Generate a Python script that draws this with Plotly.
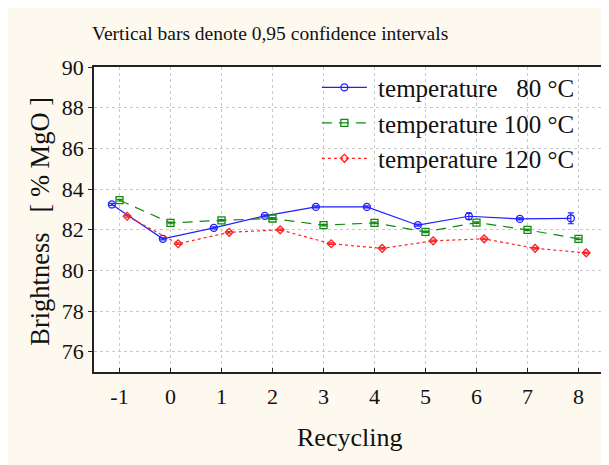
import plotly.graph_objects as go

cycles = [-1, 0, 1, 2, 3, 4, 5, 6, 7, 8]
cycle_labels = ["-1", "0", "1", "2", "3", "4", "5", "6", "7", "8"]

t80 = [83.24, 81.55, 82.09, 82.68, 83.12, 83.12, 82.22, 82.66, 82.53, 82.56]
t80_ci = [0.05, 0.05, 0.05, 0.05, 0.05, 0.05, 0.05, 0.15, 0.05, 0.27]

t100 = [83.45, 82.33, 82.46, 82.55, 82.22, 82.33, 81.89, 82.35, 81.99, 81.55]
t100_ci = [0.04, 0.04, 0.04, 0.04, 0.04, 0.04, 0.04, 0.04, 0.04, 0.04]

t120 = [82.66, 81.31, 81.87, 81.99, 81.31, 81.08, 81.45, 81.55, 81.08, 80.86]
t120_ci = [0.04, 0.04, 0.04, 0.04, 0.04, 0.04, 0.04, 0.04, 0.04, 0.04]

y_ticks = [76, 78, 80, 82, 84, 86, 88, 90]

serif = "Liberation Serif"
cream = "#fdf9ef"

series = [
    (" temperature   80 °C", t80, t80_ci, -0.15, "#1f1fff", "solid", "circle-open", 7),
    (" temperature 100 °C", t100, t100_ci, 0.0, "#108a10", "10px,7px", "square-open", 7),
    (" temperature 120 °C", t120, t120_ci, 0.15, "#ff2020", "dot", "diamond-open", 6),
]

fig = go.Figure()
for name, vals, ci, off, col, dash, sym, size in series:
    fig.add_trace(go.Scatter(
        x=[c + off for c in cycles], y=vals, name=name, mode="lines+markers",
        line=dict(color=col, width=1.2, dash=dash),
        marker=dict(symbol=sym, size=size, color=col, line=dict(width=1.3, color=col)),
        error_y=dict(type="data", array=ci, color=col, thickness=1.2, width=3),
    ))

fig.add_annotation(text="Vertical bars denote 0,95 confidence intervals", xref="paper", yref="paper",
                   x=0.3455, y=1.111, xanchor="center", yanchor="middle",
                   showarrow=False, font=dict(size=19.5, color="#111"))
fig.add_annotation(text="Brightness   [ % MgO ]", xref="paper", yref="paper", textangle=-90,
                   x=-0.106, y=0.4956, xanchor="center", yanchor="middle",
                   showarrow=False, font=dict(size=26.5, color="#111"))
fig.add_annotation(text="Recycling", xref="paper", yref="paper",
                   x=0.5, y=-0.215, xanchor="center", yanchor="middle",
                   showarrow=False, font=dict(size=26, color="#111"))

fig.update_layout(
    width=609, height=465,
    margin=dict(l=86, r=11, t=59, b=101),
    paper_bgcolor=cream, plot_bgcolor="white",
    font=dict(family=serif, color="#111"),
    showlegend=True,
    legend=dict(x=0.437, y=1.008, xanchor="left", yanchor="top", bgcolor="rgba(0,0,0,0)",
                font=dict(size=25), itemwidth=45, tracegroupgap=0),
    xaxis=dict(range=[-1.5, 8.5], tickvals=cycles, ticktext=cycle_labels,
               ticks="inside", ticklen=4, tickcolor="#222", ticklabelstandoff=4,
               showline=True, mirror=True, linecolor="#222", linewidth=1.5,
               showgrid=True, gridcolor="#c8c8c8", griddash="dot", gridwidth=1,
               tickfont=dict(size=22), zeroline=False),
    yaxis=dict(range=[75, 90], tickvals=y_ticks, ticks="outside", ticklen=4, tickcolor="#222",
               showline=True, mirror=True, linecolor="#222", linewidth=1.5,
               showgrid=True, gridcolor="#c8c8c8", griddash="dot", gridwidth=1,
               tickfont=dict(size=22), zeroline=False),
)

fig.write_html("out.html")
